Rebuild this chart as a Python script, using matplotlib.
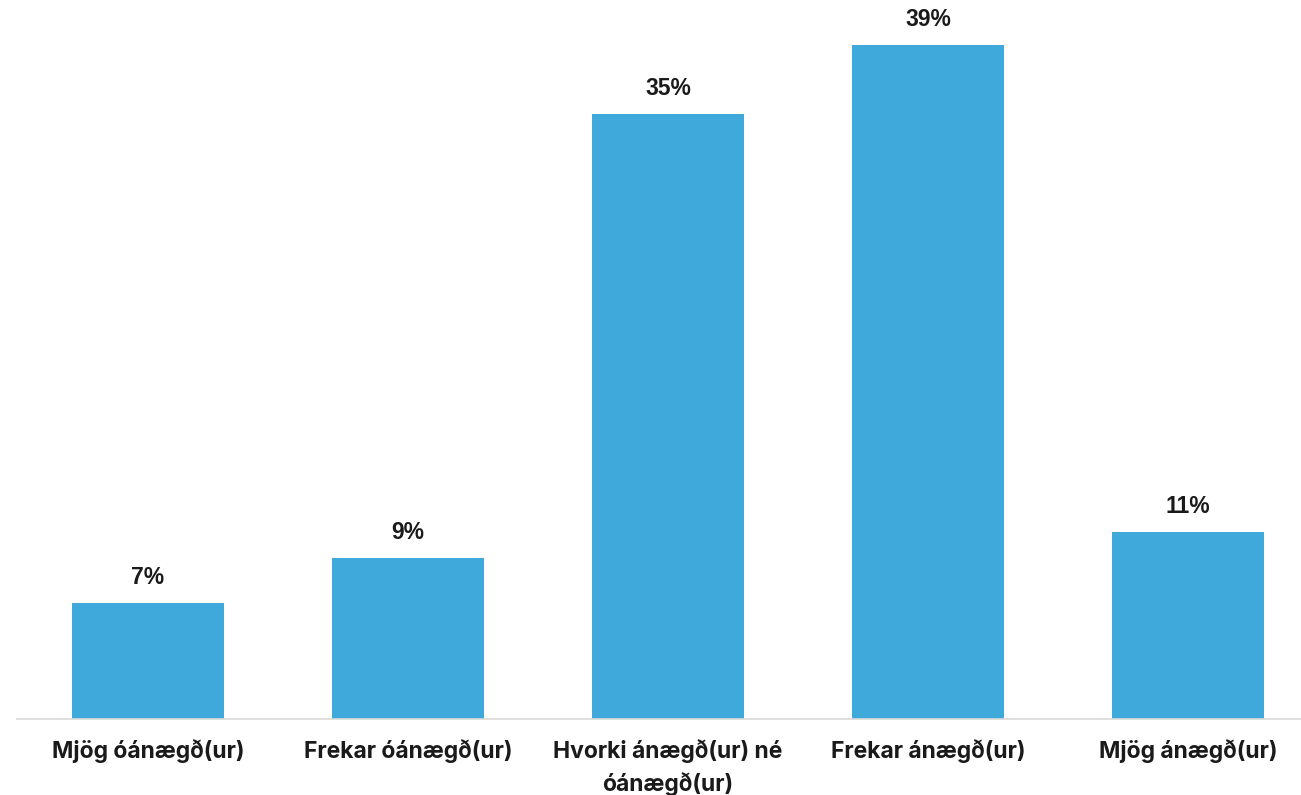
import matplotlib
matplotlib.use("Agg")
import matplotlib.pyplot as plt
import numpy as np

categories = ["Mjög óánægð(ur)", "Frekar óánægð(ur)", "Hvorki ánægð(ur) né\nóánægð(ur)",
              "Frekar ánægð(ur)", "Mjög ánægð(ur)"]
values = [6.7, 9.3, 35.0, 39.0, 10.8]
labels = ["7%", "9%", "35%", "39%", "11%"]

BAR_COLOR = "#3EA9DA"

fig = plt.figure(figsize=(13.01, 7.95), dpi=100)
W, H = 1301, 795
base_y = 718.5
ax = fig.add_axes([17 / W, (H - base_y) / H, (W - 17) / W, base_y / H])

x = np.arange(len(categories))
ax.bar(x, values, width=0.585, color=BAR_COLOR)
ax.set_xlim(-0.504, 4.435)
ax.set_ylim(0, base_y / 17.28)

for xi, v, lab in zip(x, values, labels):
    ax.annotate(lab, (xi, v), xytext=(0, 10), textcoords="offset points",
                ha="center", va="bottom", fontsize=16.5, fontweight="bold",
                family="Liberation Sans", color="#1a1a1a")

ax.set_xticks(x)
ax.set_xticklabels(categories, fontsize=16.5, fontweight="bold",
                   family="Inter", color="#1a1a1a", linespacing=1.45)
ax.tick_params(axis="x", length=0, pad=15)
ax.set_yticks([])
for s in ("top", "right", "left"):
    ax.spines[s].set_visible(False)
ax.spines["bottom"].set_color("#d9d9d9")
ax.spines["bottom"].set_linewidth(1.2)

fig.savefig("out.png", dpi=100)
